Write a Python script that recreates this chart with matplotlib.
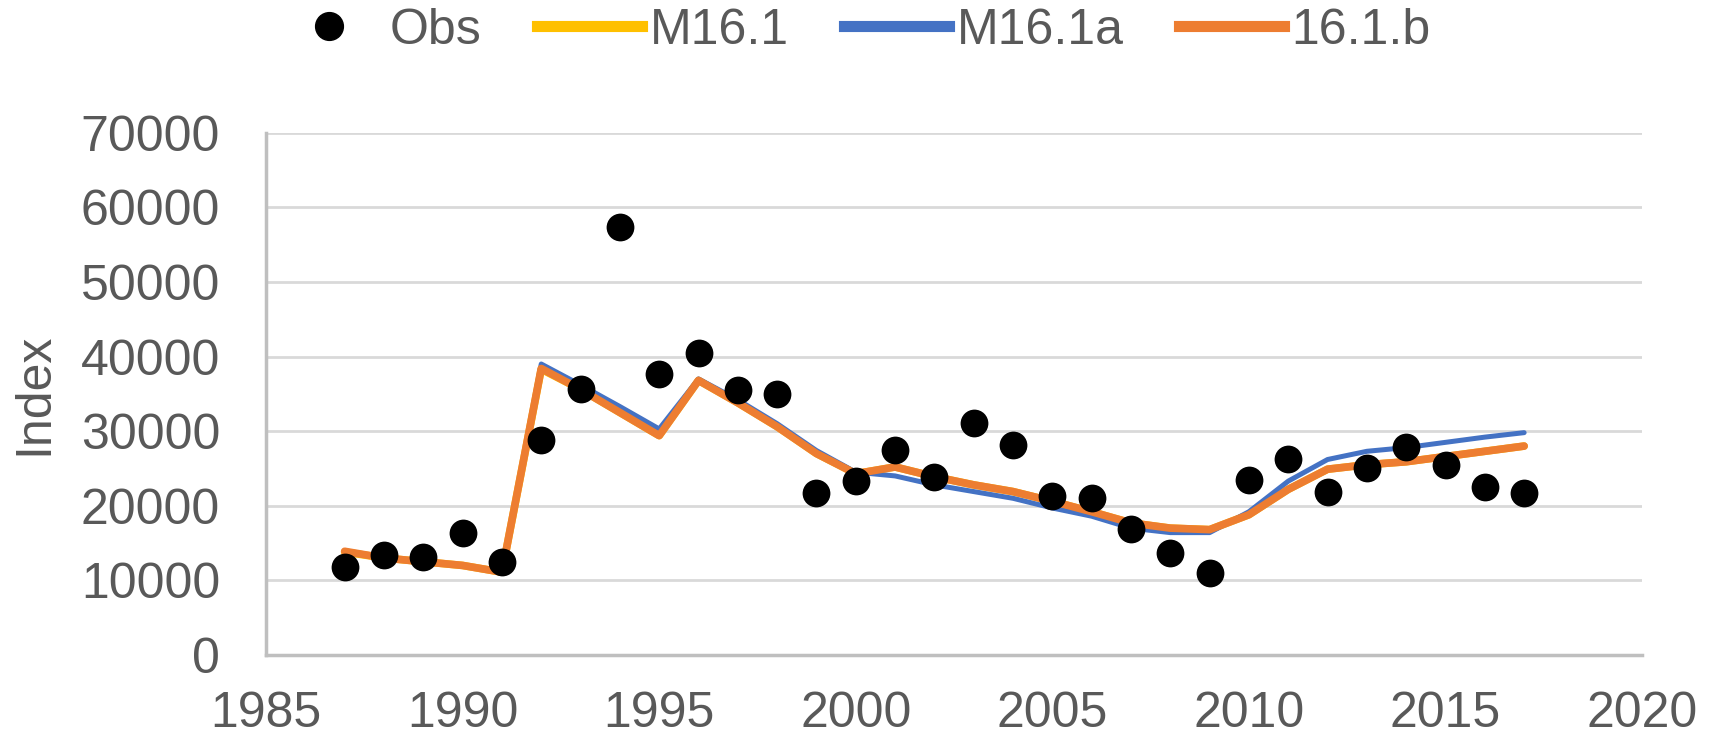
import matplotlib
matplotlib.use("Agg")
import matplotlib.pyplot as plt
from matplotlib.lines import Line2D

plt.rcParams['font.family'] = ['Liberation Sans', 'DejaVu Sans']

# observed index
obs_years = list(range(1987, 2018))
obs = [11800, 13400, 13100, 16300, 12500, 28800, 35700, 57300, 37700, 40500,
       35500, 35000, 21700, 23300, 27500, 23900, 31100, 28200, 21300, 21000,
       16900, 13700, 11000, 23500, 26300, 21900, 25100, 27900, 25500, 22500,
       21700]

# model fits
fit_years = list(range(1987, 2018))
m161 = [13800, 13000, 12500, 12000, 11100, 38300, 35600, 32500, 29400, 36800,
        33800, 30600, 27000, 24300, 25200, 23900, 22800, 21900, 20600, 19200,
        17700, 17000, 16800, 18800, 22200, 24900, 25500, 25900, 26600, 27300,
        28000]
m161a = [13800, 13000, 12500, 12000, 11100, 39000, 36200, 33300, 30300, 37000,
         34200, 31000, 27400, 24500, 24000, 22800, 21900, 21000, 19700, 18600,
         17000, 16400, 16400, 19200, 23300, 26200, 27300, 27800, 28500, 29200,
         29800]
m161b = [13900, 13000, 12500, 12000, 11100, 38400, 35600, 32500, 29400, 36800,
         33800, 30600, 27000, 24300, 25200, 23900, 22800, 21900, 20600, 19200,
         17700, 17000, 16800, 18800, 22200, 24900, 25500, 25900, 26600, 27300,
         28000]

yticks = [0, 10000, 20000, 30000, 40000, 50000, 60000, 70000]
xticks = [1985, 1990, 1995, 2000, 2005, 2010, 2015, 2020]

txt = '#595959'
c_yel, c_blue, c_org = '#FFC000', '#4472C4', '#ED7D31'

fig = plt.figure(figsize=(17.13, 7.37), dpi=100)
ax = fig.add_axes([0.1553, 0.1113, 0.8033, 0.7086])

ax.plot(fit_years, m161, color=c_yel, lw=5.5, solid_capstyle='round', zorder=3)
ax.plot(fit_years, m161a, color=c_blue, lw=3.6, solid_capstyle='round', zorder=4)
ax.plot(fit_years, m161b, color=c_org, lw=5.5, solid_capstyle='round', zorder=5)
ax.scatter(obs_years, obs, s=400, color='black', zorder=6, linewidths=0)

ax.set_xlim(1985, 2020)
ax.set_ylim(0, 70000)
ax.set_xticks(xticks)
ax.set_yticks(yticks)
ax.tick_params(axis='both', length=0, labelsize=36, labelcolor=txt)
ax.tick_params(axis='y', pad=33)
ax.tick_params(axis='x', pad=26)
ax.grid(axis='y', color='#d9d9d9', lw=2)
ax.set_axisbelow(True)
for s in ['top', 'right']:
    ax.spines[s].set_visible(False)
for s in ['left', 'bottom']:
    ax.spines[s].set_color('#bfbfbf')
    ax.spines[s].set_linewidth(2.5)

fig.text(0.020, 0.466, 'Index', rotation=90, ha='center', va='center',
         fontsize=36, color=txt)

handles = [
    Line2D([], [], ls='none', marker='o', color='black', markersize=20),
    Line2D([], [], color=c_yel, lw=8),
    Line2D([], [], color=c_blue, lw=8),
    Line2D([], [], color=c_org, lw=8),
]
fig.legend(handles, ['Obs', 'M16.1', 'M16.1a', '16.1.b'], loc='center',
           bbox_to_anchor=(0.4985, 0.958), ncol=4, frameon=False,
           fontsize=36, labelcolor=txt, handlelength=2.1, handletextpad=0.16,
           columnspacing=1.1, borderpad=0, borderaxespad=0)

fig.savefig('out.png', dpi=100)
